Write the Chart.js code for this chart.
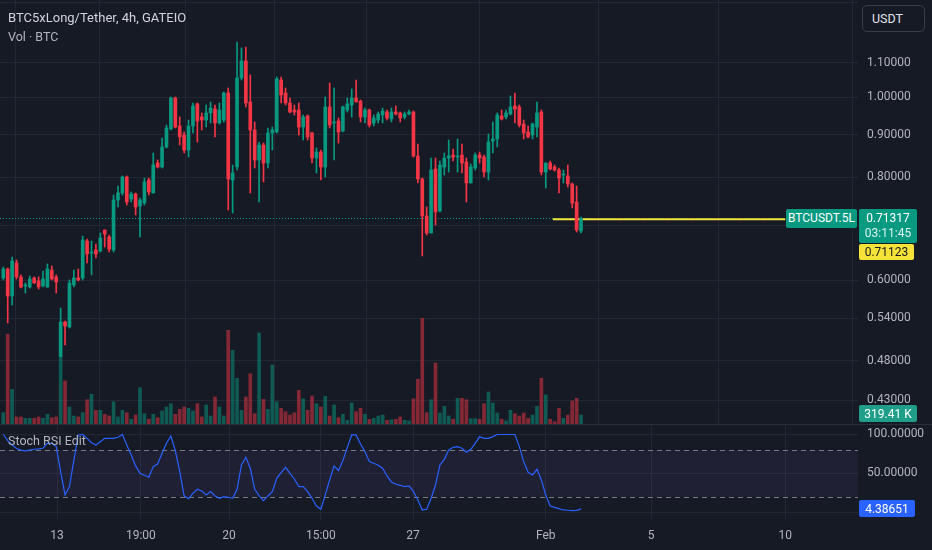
<!DOCTYPE html>
<html>
<head>
<meta charset="utf-8">
<script src="https://cdn.jsdelivr.net/npm/chart.js@4/dist/chart.umd.min.js"></script>
<style>
html,body{margin:0;padding:0;background:#161A25;width:932px;height:550px;overflow:hidden;font-family:Roboto,"Noto Sans",sans-serif;}
#mainWrap{position:absolute;left:0;top:0;width:932px;height:425px;}
#rsiWrap{position:absolute;left:0;top:425px;width:932px;height:125px;}
#sep{position:absolute;left:0;top:424px;width:932px;height:1px;background:#2A2E39;}
.ov{position:absolute;white-space:nowrap;line-height:1;}
.box{position:absolute;color:#fff;font-size:12px;display:flex;align-items:center;justify-content:center;border-radius:2px;}
</style>
</head>
<body>
<div id="mainWrap"><canvas id="mainCanvas" width="932" height="425"></canvas></div>
<div id="sep"></div>
<div id="rsiWrap"><canvas id="rsiCanvas" width="932" height="125"></canvas></div>

<div class="ov" style="left:8px;top:11px;font-size:13px;color:#D1D4DC;">BTC5xLong/Tether, 4h, GATEIO</div>
<div class="ov" style="left:8px;top:31px;font-size:12.5px;color:#B2B5BE;">Vol · BTC</div>
<div class="ov" style="left:8px;top:435px;font-size:12.5px;color:#B2B5BE;">Stoch RSI Edit</div>
<div class="box" style="left:862px;top:5px;width:63px;height:27px;border:1px solid #3A3E4A;border-radius:5px;background:#161A25;color:#E0E3EB;font-size:12.5px;justify-content:flex-start;padding-left:9px;box-sizing:border-box;">USDT</div>

<div class="box" id="symBox" style="left:786px;width:71px;height:19px;background:#089981;">BTCUSDT.5L</div>
<div class="box" id="priceBox" style="left:859px;width:58px;height:34px;background:#089981;flex-direction:column;">
  <span id="priceTxt" style="line-height:15px;"></span><span style="line-height:15px;color:#DDF3EF;">03:11:45</span>
</div>
<div class="box" id="alertBox" style="left:859px;width:55px;height:16px;background:#F5E33A;color:#131722;"></div>
<div class="box" id="volBox" style="left:859px;width:58px;height:17px;background:#1F9E89;"></div>
<div class="box" id="rsiBox" style="left:859px;width:56px;height:17px;background:#2962FF;"></div>

<script>
// ---------------- DATA ----------------
const opens = [
0.6041,0.6194,0.5745,0.6299,0.6058,0.5908,0.5891,0.6041,0.5991,0.5908,
0.5891,0.6176,0.6058,0.4848,0.5344,0.5270,0.5925,0.6041,0.6041,0.6696,
0.6476,0.6530,0.6512,0.6904,0.6771,0.6530,0.7506,0.7654,0.8003,0.7527,
0.7633,0.7382,0.7444,0.7936,0.7654,0.8321,0.8229,0.8700,0.9148,0.9973,
0.9225,0.8996,0.8627,0.9225,0.9808,0.9459,0.9379,0.9565,0.9671,0.9302,
0.9379,1.0113,0.7936,0.8229,1.0544,1.1056,0.9862,0.9122,0.8390,0.8749,
0.8321,0.9047,0.9072,1.0485,1.0113,0.9835,0.9644,0.9644,0.9199,0.9485,
0.9047,0.8437,0.8580,0.8229,0.9726,0.9302,0.9353,0.9097,0.9644,0.9780,
0.9973,0.9890,0.9459,0.9644,0.9302,0.9379,0.9512,0.9591,0.9406,0.9591,
0.9565,0.9459,0.9538,0.9591,0.8485,0.7958,0.7179,0.6847,0.8183,0.7280,
0.8229,0.8437,0.8508,0.8461,0.8508,0.8344,0.7871,0.8206,0.8508,0.8461,
0.8114,0.8847,0.8896,0.9485,0.9459,0.9538,0.9753,0.9726,0.9276,0.9072,
0.8996,0.9199,0.9591,0.8114,0.8321,0.8229,0.8160,0.8048,0.8026,0.7849,
0.7465,0.6885];
const highs = [
0.6229,0.6211,0.6405,0.6351,0.6092,0.5958,0.6075,0.6058,0.6058,0.6159,
0.6281,0.6246,0.6092,0.5556,0.5358,0.6007,0.6176,0.6194,0.6790,0.6733,
0.6696,0.6640,0.6847,0.6904,0.6809,0.7612,0.7805,0.8026,0.8026,0.7676,
0.7654,0.7548,0.7981,0.7981,0.8556,0.8390,0.8921,0.9250,1.0000,1.0000,
0.9459,0.9072,0.9379,0.9835,0.9835,0.9565,0.9780,0.9862,0.9780,0.9835,
1.0141,1.0255,0.8275,1.1657,1.1463,1.1495,1.0633,0.9328,0.8822,0.8798,
0.9173,0.9199,1.0574,1.0574,1.0255,0.9973,0.9780,0.9835,0.9512,0.9512,
0.9072,0.8676,0.8627,1.0000,1.0398,1.0255,0.9432,0.9753,0.9973,1.0226,
1.0485,0.9917,0.9698,0.9671,0.9512,0.9591,0.9698,0.9644,0.9698,0.9753,
0.9591,0.9591,0.9644,0.9618,0.8773,0.7981,0.7362,0.8437,0.8437,0.8367,
0.8556,0.8871,0.8651,0.8896,0.8773,0.8437,0.8298,0.8556,0.8580,0.8508,
0.9022,0.9328,0.9565,0.9644,0.9644,1.0028,1.0113,0.9780,0.9379,0.9225,
0.9302,0.9862,0.9644,0.8321,0.8367,0.8275,0.8206,0.8160,0.8275,0.7871,
0.7805,0.7159];
const lows = [
0.6007,0.5329,0.5603,0.6024,0.5875,0.5794,0.5875,0.5950,0.5858,0.5891,
0.5885,0.6007,0.5794,0.4848,0.5013,0.5255,0.5891,0.5991,0.6007,0.6299,
0.6092,0.6387,0.6494,0.6585,0.6494,0.6494,0.7362,0.7612,0.7403,0.7465,
0.7200,0.6771,0.7403,0.7612,0.7654,0.8206,0.8206,0.8676,0.9122,0.9173,
0.8749,0.8556,0.8461,0.9047,0.8822,0.9122,0.9199,0.9302,0.8946,0.9276,
0.9326,0.7300,0.7240,0.8160,1.0485,0.9726,0.7654,0.8206,0.7465,0.7892,
0.8206,0.8627,0.9047,0.9835,0.9780,0.9565,0.9512,0.8996,0.8871,0.8871,
0.8321,0.8093,0.7936,0.8003,0.9173,0.8390,0.8798,0.9072,0.9591,0.9459,
0.9862,0.9328,0.9302,0.9199,0.9225,0.9302,0.9302,0.9379,0.9328,0.9512,
0.9328,0.9406,0.9512,0.8461,0.7871,0.6423,0.6809,0.6847,0.7002,0.7260,
0.8048,0.8114,0.8367,0.8114,0.8093,0.7465,0.7871,0.8160,0.8321,0.8003,
0.7936,0.8556,0.8700,0.9379,0.9406,0.9512,0.9302,0.9199,0.8896,0.8921,
0.8896,0.8946,0.8048,0.7761,0.8160,0.8137,0.7654,0.7871,0.7783,0.7341,
0.6866,0.6847];
const closes = [
0.6194,0.5745,0.6334,0.6058,0.5891,0.5925,0.6024,0.5958,0.5891,0.6024,
0.6194,0.6024,0.5974,0.5344,0.5285,0.5958,0.6041,0.6007,0.6714,0.6458,
0.6494,0.6458,0.6752,0.6828,0.6548,0.7506,0.7654,0.8003,0.7465,0.7633,
0.7362,0.7506,0.7892,0.7676,0.8275,0.8229,0.8700,0.9173,0.9973,0.9199,
0.8946,0.8627,0.9225,0.9753,0.9353,0.9379,0.9565,0.9698,0.9302,0.9644,
1.0113,0.7958,0.8093,1.0544,1.1056,0.9835,0.9122,0.8390,0.8749,0.8321,
0.9047,0.9122,1.0515,1.0057,0.9835,0.9591,0.9591,0.9199,0.9459,0.8946,
0.8437,0.8580,0.8229,0.9726,0.9250,0.9328,0.9072,0.9726,0.9808,0.9973,
0.9862,0.9459,0.9644,0.9250,0.9432,0.9538,0.9618,0.9432,0.9591,0.9538,
0.9432,0.9538,0.9591,0.8485,0.7958,0.7179,0.6847,0.8160,0.7260,0.8275,
0.8437,0.8485,0.8461,0.8485,0.8321,0.7871,0.8229,0.8508,0.8437,0.8114,
0.8822,0.8896,0.9512,0.9406,0.9565,0.9726,0.9671,0.9250,0.9047,0.8946,
0.9276,0.9565,0.8114,0.8321,0.8183,0.8160,0.7981,0.8070,0.7849,0.7444,
0.6904,0.71317];
// volume in thousands (K)
const volumes = [
393,2897,1140,256,256,214,214,214,256,214,
342,233,256,2140,1405,575,287,256,393,808,
981,470,470,342,287,744,256,470,393,182,
319,1191,361,182,342,233,447,575,680,342,
501,575,533,447,680,256,639,287,894,575,
287,3025,2386,1492,470,894,1639,361,2938,821,
501,1916,744,533,425,319,393,1108,840,470,
926,680,575,917,287,639,233,342,150,703,
425,533,342,182,214,287,319,150,169,182,
256,150,128,840,1460,3408,393,808,1980,383,
597,287,182,853,853,808,201,201,182,680,
1054,703,383,182,128,470,361,287,383,214,
319,597,1492,958,182,105,533,214,319,767,
853,319.41];
const stochK = [
100,92,86.5,82,80,79,80,81,81.4,82.3,
88.7,88.7,84.4,52,22.3,33,67,99.4,100,95,
89.5,86.5,90.8,95,95,95,96.4,100,86.5,73.7,
59.6,50,47.6,45,58.7,62,75.8,88.7,98,79.3,
52.3,21,17.6,24.4,29.6,27.4,22.3,26.6,21,18,
20.1,19.3,18,29.6,60.8,70.7,56.6,29.6,21.4,15,
21,26.6,43.7,51,57.8,50.1,42.8,33,33,26.6,
18,8.1,3.9,22.3,41.6,59.6,53.6,66.4,83.5,99.4,
99.4,87.8,78,65.1,63,60.4,56.6,46.7,39,36,
34.7,33,33.8,26.6,15.9,3,3.9,18,35.1,60.8,
68.1,80.1,83.5,84.4,82.3,77.1,81,88.7,97.3,95.1,
95.1,97.3,100,100,100,100,100,84.4,65.1,51.4,
48,55.3,41.6,22.3,8.1,6.4,4.7,3,2.6,2.1,
2.5,4.38651];
// time-axis ticks (positions in candle units) and labels
const timeTickPos = [12.2, 31.2, 51.2, 72.0, 92.9, 123.0, 146.9, 177.3];
const timeTickLabels = ['13','19:00','20','15:00','27','Feb','5','10'];
// price axis ticks
const priceTicks = [1.3, 1.1, 1.0, 0.9, 0.8, 0.7, 0.6, 0.54, 0.48, 0.43];
const hiddenPriceTicks = [1.3, 0.7];
const rsiTicks = [0, 50, 100];
const rsiBands = [20, 80];
const alertPrice = 0.71123;
const alertSpan = [124.6, 177.3];

// ---------------- SETUP ----------------
const UP = '#089981', DOWN = '#F23645';
const UP_V = 'rgba(8,153,129,0.5)', DOWN_V = 'rgba(242,54,69,0.5)';
const GRID = '#232733';
const TXT = '#B2B5BE';
const FONT = {family: 'Roboto, "Noto Sans", sans-serif', size: 12};
const X_MIN = -0.75, X_MAX = 193.8;
const AXIS_W = 74;
const lastClose = closes[closes.length - 1];
const up = i => closes[i] >= opens[i];

const xScaleCfg = (showLabels) => ({
  type: 'linear', min: X_MIN, max: X_MAX, offset: false,
  afterBuildTicks: s => { s.ticks = timeTickPos.map(v => ({value: v})); },
  ticks: {display: showLabels, autoSkip: false, maxRotation: 0, color: TXT, font: FONT, padding: 9,
          callback: (v, i) => timeTickLabels[i]},
  grid: {color: GRID, drawTicks: false},
  border: {display: false},
  afterFit: s => { s.height = showLabels ? 30 : 0; s.paddingLeft = 0; s.paddingRight = 0; s.paddingTop = 0; s.paddingBottom = 0; }
});

const yFit = s => { s.width = AXIS_W; s.paddingTop = 0; s.paddingBottom = 0; s.paddingLeft = 0; s.paddingRight = 0; };

const priceLines = {
  id: 'priceLines',
  beforeDatasetsDraw(chart) {
    const {ctx, chartArea, scales} = chart;
    const y = Math.round(scales.y.getPixelForValue(lastClose)) + 0.5;
    ctx.save();
    ctx.strokeStyle = UP; ctx.lineWidth = 1; ctx.setLineDash([1, 2]);
    ctx.beginPath(); ctx.moveTo(chartArea.left, y); ctx.lineTo(chartArea.right, y); ctx.stroke();
    const ya = scales.y.getPixelForValue(alertPrice);
    ctx.setLineDash([]); ctx.strokeStyle = '#F5E33A'; ctx.lineWidth = 2;
    ctx.beginPath(); ctx.moveTo(scales.x.getPixelForValue(alertSpan[0]), ya);
    ctx.lineTo(scales.x.getPixelForValue(alertSpan[1]), ya); ctx.stroke();
    ctx.restore();
  }
};

const mainChart = new Chart(document.getElementById('mainCanvas'), {
  type: 'bar',
  data: {
    datasets: [
      {label: 'vol', yAxisID: 'vol', order: 3, grouped: false, barThickness: 3,
       data: volumes.map((v, i) => ({x: i, y: v})),
       backgroundColor: volumes.map((v, i) => up(i) ? UP_V : DOWN_V)},
      {label: 'wick', yAxisID: 'y', order: 2, grouped: false, barThickness: 1,
       data: highs.map((h, i) => ({x: i, y: [lows[i], h]})),
       backgroundColor: highs.map((h, i) => up(i) ? UP : DOWN)},
      {label: 'body', yAxisID: 'y', order: 1, grouped: false, barThickness: 3, minBarLength: 1,
       data: opens.map((o, i) => ({x: i, y: [Math.min(o, closes[i]), Math.max(o, closes[i])]})),
       backgroundColor: opens.map((o, i) => up(i) ? UP : DOWN)}
    ]
  },
  options: {
    responsive: false, animation: false, events: [],
    layout: {padding: 0},
    plugins: {legend: {display: false}, tooltip: {enabled: false}},
    scales: {
      x: xScaleCfg(false),
      y: {type: 'logarithmic', position: 'right', min: 0.4011, max: 1.3102,
          afterBuildTicks: s => { s.ticks = priceTicks.map(v => ({value: v})); },
          ticks: {color: TXT, font: FONT, padding: 9,
                  callback: v => hiddenPriceTicks.includes(v) ? '' : Number(v).toFixed(5)},
          grid: {color: GRID, drawTicks: false}, border: {display: false},
          afterFit: yFit},
      vol: {type: 'linear', display: false, min: 0, max: 13575}
    }
  },
  plugins: [priceLines]
});

const rsiDecor = {
  id: 'rsiDecor',
  beforeDatasetsDraw(chart) {
    const {ctx, chartArea, scales} = chart;
    const y1 = scales.y.getPixelForValue(rsiBands[1]);
    const y0 = scales.y.getPixelForValue(rsiBands[0]);
    ctx.save();
    ctx.fillStyle = 'rgba(126,87,194,0.1)';
    ctx.fillRect(chartArea.left, y1, chartArea.right - chartArea.left, y0 - y1);
    ctx.strokeStyle = '#787B86'; ctx.lineWidth = 1; ctx.setLineDash([5, 4]);
    [y1, y0].forEach(y => {
      const yy = Math.round(y) + 0.5;
      ctx.beginPath(); ctx.moveTo(chartArea.left, yy); ctx.lineTo(chartArea.right, yy); ctx.stroke();
    });
    ctx.restore();
  }
};

const rsiChart = new Chart(document.getElementById('rsiCanvas'), {
  type: 'line',
  data: {datasets: [{label: 'K', data: stochK.map((v, i) => ({x: i, y: v})),
    borderColor: '#2962FF', borderWidth: 1.2, pointRadius: 0, tension: 0, fill: false}]},
  options: {
    responsive: false, animation: false, events: [],
    layout: {padding: 0},
    plugins: {legend: {display: false}, tooltip: {enabled: false}},
    scales: {
      x: xScaleCfg(true),
      y: {type: 'linear', position: 'right', min: -9.9, max: 112.2,
          afterBuildTicks: s => { s.ticks = rsiTicks.map(v => ({value: v})); },
          ticks: {color: TXT, font: FONT, padding: 9, callback: v => v === 0 ? '' : Number(v).toFixed(5)},
          grid: {color: GRID, drawTicks: false}, border: {display: false},
          afterFit: yFit}
    }
  },
  plugins: [rsiDecor]
});

// ---------------- LABEL BOXES ----------------
const py = mainChart.scales.y.getPixelForValue(lastClose);
document.getElementById('symBox').style.top = (py - 9.5) + 'px';
const pb = document.getElementById('priceBox');
pb.style.top = (py - 9.5) + 'px';
document.getElementById('priceTxt').textContent = lastClose.toFixed(5);
const ab = document.getElementById('alertBox');
ab.style.top = (py - 9.5 + 35) + 'px';
ab.textContent = alertPrice.toFixed(5);
const lastVol = volumes[volumes.length - 1];
const vy = mainChart.scales.vol.getPixelForValue(lastVol);
const vb = document.getElementById('volBox');
vb.style.top = (vy - 10) + 'px';
vb.textContent = lastVol.toFixed(2) + ' K';
const lastK = stochK[stochK.length - 1];
const ry = 425 + rsiChart.scales.y.getPixelForValue(lastK);
const rb = document.getElementById('rsiBox');
rb.style.top = (ry - 8.5) + 'px';
rb.textContent = lastK.toFixed(5);
</script>
</body>
</html>
